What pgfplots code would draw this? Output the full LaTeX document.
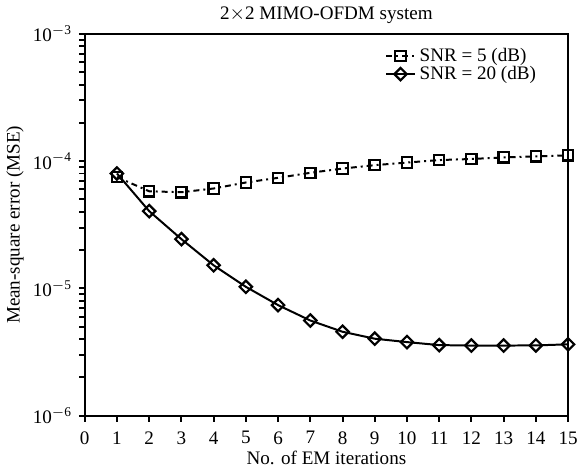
\documentclass[border=0pt]{standalone}
\usepackage{fontspec}
\setmainfont{Liberation Serif}
\usepackage{pgfplots}
\pgfplotsset{compat=1.18}
\begin{document}
\fontsize{9.6}{11}\selectfont
\begin{tikzpicture}
\begin{axis}[
    scale only axis,
    width=243pt, height=192pt,
    xmin=0, xmax=15,
    ymode=log,
    ymin=1e-6, ymax=1e-3,
    xtick={0,1,...,15},
    ytick={1e-6,1e-5,1e-4,1e-3},
    yticklabels={10\textsuperscript{$-$6},10\textsuperscript{$-$5},10\textsuperscript{$-$4},10\textsuperscript{$-$3}},
    minor ytick={},
    tick align=outside,
    tick pos=left,
    major tick length=3pt,
    axis line style={line width=1.2pt},
    every tick/.style={line width=1pt, black},
    /pgf/number format/assume math mode=true,
    title={2$\times$2 MIMO-OFDM system},
    title style={yshift=-4pt},
    xlabel={No. of EM iterations},
    ylabel={Mean-square error (MSE)},
    xticklabel style={yshift=-1.5pt},
    xlabel style={yshift=3pt},
    ylabel style={yshift=-2pt},
    legend style={
        at={(0.955,0.985)}, anchor=north east,
        draw=none, fill=none,
        row sep=-3pt,
        font=\fontsize{9.6}{11}\selectfont,
    },
    legend cell align=left,
    legend image code/.code={
        \draw[mark repeat=2, mark phase=2, #1] plot coordinates {(0cm,0cm) (0.25cm,0cm) (0.5cm,0cm)};
    },
]
\addplot[black, line width=1pt, dashdotted, mark=square, mark size=2.6pt, mark options={solid, line width=1.1pt, fill=white}]
    coordinates {(1,7.5e-5)(2,5.8e-5)(3,5.7e-5)(4,6.1e-5)(5,6.8e-5)(6,7.4e-5)(7,8.1e-5)(8,8.75e-5)(9,9.3e-5)(10,9.75e-5)(11,1.02e-4)(12,1.04e-4)(13,1.07e-4)(14,1.09e-4)(15,1.11e-4)};
\addplot[black, line width=1pt, mark=square, mark size=2.2pt, mark options={solid, rotate=45, line width=1.1pt, fill=white}]
    coordinates {(1,8.0e-5)(2,4.05e-5)(3,2.44e-5)(4,1.52e-5)(5,1.03e-5)(6,7.4e-6)(7,5.6e-6)(8,4.57e-6)(9,4.03e-6)(10,3.79e-6)(11,3.59e-6)(12,3.56e-6)(13,3.56e-6)(14,3.57e-6)(15,3.64e-6)};
\legend{SNR = 5 (dB), SNR = 20 (dB)}
\end{axis}
\end{tikzpicture}
\end{document}
